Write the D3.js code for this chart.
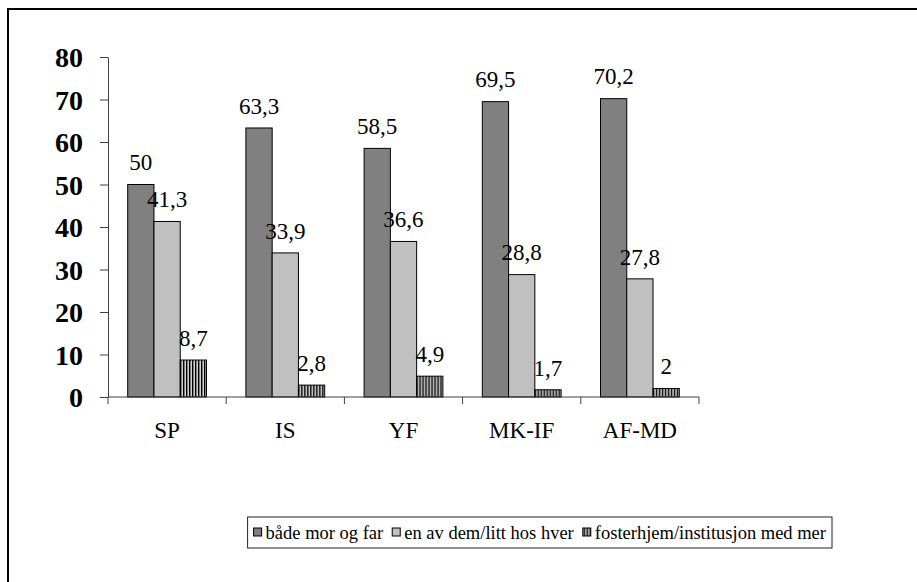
<!DOCTYPE html>
<html lang="no">
<head>
    <meta charset="UTF-8">
    <title>Bor sammen med</title>
    <script src="https://d3js.org/d3.v7.min.js"></script>
    <style>
        body { margin: 0; background: #fff; }
        svg, svg text { font-family: "Times New Roman", "Liberation Serif", Tinos, "DejaVu Serif", serif !important; }
    </style>
</head>
<body>
    <div id="chart"></div>

    <script>
        const width = 917;
        const height = 582;
        const serif = '"Times New Roman", "Liberation Serif", Tinos, "DejaVu Serif", serif';

        // data
        const categories = ["SP", "IS", "YF", "MK-IF", "AF-MD"];
        const seriesNames = ["både mor og far", "en av dem/litt hos hver", "fosterhjem/institusjon med mer"];
        const bothParents = [50, 63.3, 58.5, 69.5, 70.2];
        const oneOfThem = [41.3, 33.9, 36.6, 28.8, 27.8];
        const fosterHome = [8.7, 2.8, 4.9, 1.7, 2];
        const yTicks = [0, 10, 20, 30, 40, 50, 60, 70, 80];

        const seriesValues = [bothParents, oneOfThem, fosterHome];
        const fills = ["#808080", "#c0c0c0", "url(#stripes)"];

        const margin = {left: 108, top: 57, right: 218, bottom: 185};

        const svg = d3.select("#chart")
                      .append("svg")
                      .attr("width", width)
                      .attr("height", height)
                      .attr("font-family", serif);

        const defs = svg.append("defs");
        const pat = defs.append("pattern")
            .attr("id", "stripes")
            .attr("patternUnits", "userSpaceOnUse")
            .attr("width", 3)
            .attr("height", 4);
        pat.append("rect").attr("width", 3).attr("height", 4).attr("fill", "#d0d0d0");
        pat.append("rect").attr("width", 1.4).attr("height", 4).attr("fill", "#000");

        // outer frame
        svg.append("rect")
           .attr("x", 8).attr("y", 9)
           .attr("width", width + 20).attr("height", height + 20)
           .attr("fill", "none")
           .attr("stroke", "#000")
           .attr("stroke-width", 2);

        const x0 = d3.scaleBand()
                     .domain(categories)
                     .range([margin.left, width - margin.right])
                     .paddingInner(0)
                     .paddingOuter(0);

        const x1 = d3.scaleBand()
                     .domain(d3.range(seriesNames.length))
                     .range([0, x0.bandwidth()])
                     .paddingOuter(0.75)
                     .paddingInner(0);

        const y = d3.scaleLinear()
                    .domain([0, 80])
                    .range([height - margin.bottom, margin.top]);

        // y axis
        const yAxis = svg.append("g")
           .attr("transform", `translate(${margin.left},0)`)
           .call(d3.axisLeft(y).tickValues(yTicks).tickSize(8).tickSizeOuter(0).tickPadding(17));
        yAxis.attr("font-family", serif);
        yAxis.select(".domain").attr("stroke", "#404040");
        yAxis.selectAll(".tick line").attr("stroke", "#404040");
        yAxis.selectAll("text")
             .attr("font-size", 28)
             .attr("font-weight", "bold")
             .attr("fill", "#000")
             .attr("dy", "0.34em");

        // bars
        const groups = svg.append("g")
            .selectAll("g")
            .data(categories)
            .enter()
            .append("g")
            .attr("transform", d => `translate(${x0(d)},0)`);

        groups.selectAll("rect")
            .data((c, ci) => seriesValues.map((vals, si) => ({si, v: vals[ci]})))
            .enter()
            .append("rect")
            .attr("x", d => x1(d.si))
            .attr("y", d => y(d.v))
            .attr("width", x1.bandwidth())
            .attr("height", d => y(0) - y(d.v))
            .attr("fill", d => fills[d.si])
            .attr("stroke", "#000")
            .attr("stroke-width", 1);

        groups.selectAll("text.val")
            .data((c, ci) => seriesValues.map((vals, si) => ({si, v: vals[ci]})))
            .enter()
            .append("text")
            .attr("class", "val")
            .attr("x", d => x1(d.si) + x1.bandwidth() / 2)
            .attr("y", d => y(d.v) - 22)
            .attr("dy", "0.34em")
            .attr("text-anchor", "middle")
            .attr("font-size", 23)
            .text(d => String(d.v).replace(".", ","));

        // x axis
        const xAxis = svg.append("g")
           .attr("transform", `translate(0,${y(0)})`);
        xAxis.append("line")
             .attr("x1", margin.left).attr("x2", width - margin.right)
             .attr("stroke", "#404040");
        xAxis.selectAll("line.tick")
             .data(categories.map(c => x0(c)).concat([x0(categories[categories.length - 1]) + x0.bandwidth()]))
             .enter()
             .append("line")
             .attr("class", "tick")
             .attr("x1", d => d).attr("x2", d => d)
             .attr("y1", 0).attr("y2", 7)
             .attr("stroke", "#404040");
        xAxis.selectAll("text")
             .data(categories)
             .enter()
             .append("text")
             .attr("x", d => x0(d) + x0.bandwidth() / 2)
             .attr("y", 41)
             .attr("text-anchor", "middle")
             .attr("font-size", 23)
             .text(d => d);

        // legend
        const legend = svg.append("g");
        const box = legend.append("rect")
            .attr("fill", "#fff")
            .attr("stroke", "#202020")
            .attr("stroke-width", 1);
        let lx = 0;
        seriesNames.forEach((name, i) => {
            legend.append("rect")
                .attr("x", lx).attr("y", -4.5)
                .attr("width", 8).attr("height", 8)
                .attr("fill", fills[i])
                .attr("stroke", "#000");
            const t = legend.append("text")
                .attr("x", lx + 12).attr("y", 0)
                .attr("dy", "0.33em")
                .attr("font-size", 18.5)
                .text(name);
            lx += 12 + t.node().getComputedTextLength() + 9;
        });
        const legW = lx - 9;
        const legRight = 832, legCy = 532.5;
        legend.attr("transform", `translate(${legRight - 6 - legW},${legCy})`);
        box.attr("x", -6).attr("y", -15.5).attr("width", legW + 12).attr("height", 31);
    </script>
</body>
</html>
